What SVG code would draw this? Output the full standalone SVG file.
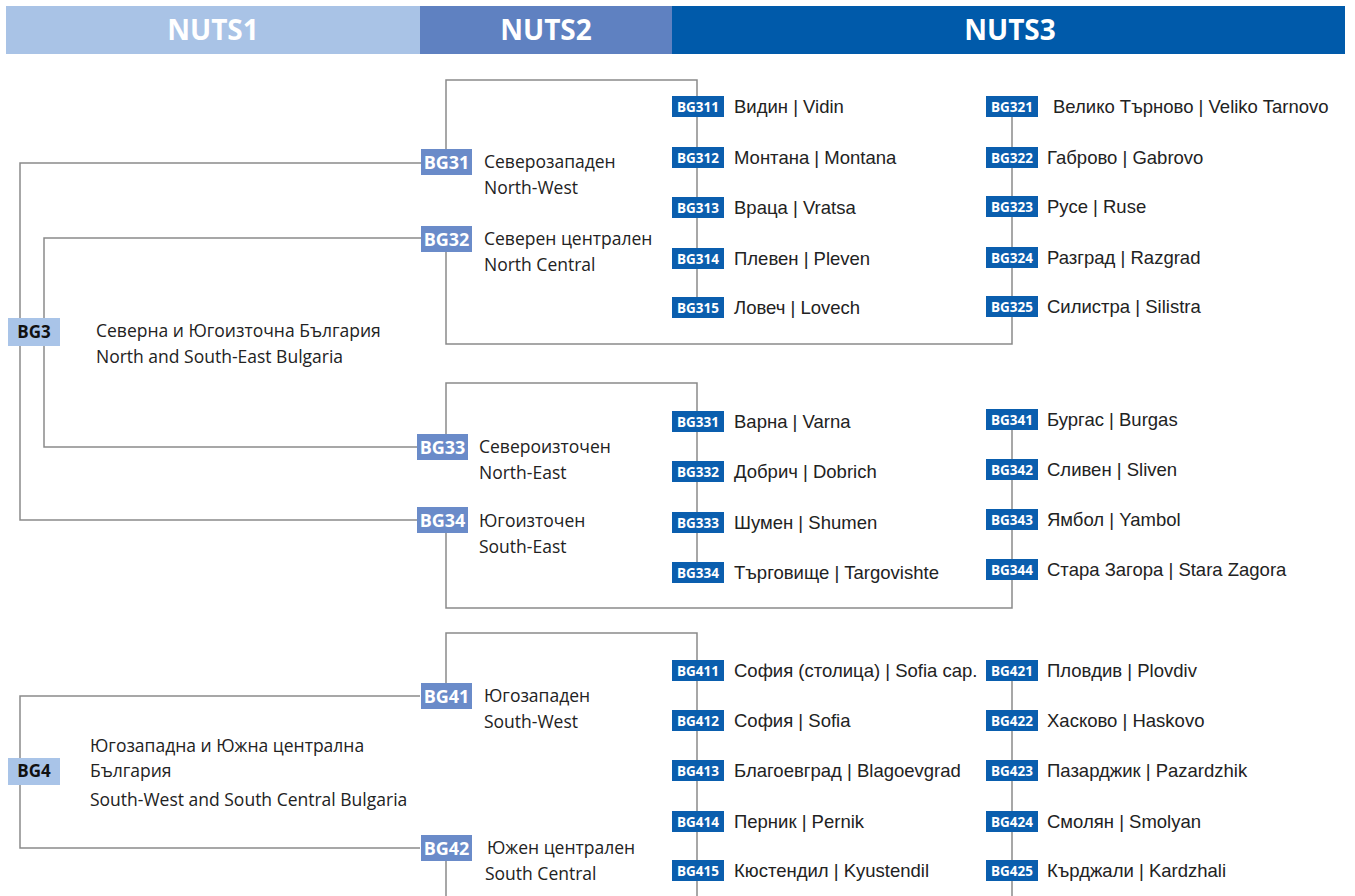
<svg xmlns="http://www.w3.org/2000/svg" width="1355" height="896" viewBox="0 0 1355 896">
<style>
.hd{font-family:"Open Sans","Noto Sans",sans-serif;font-weight:bold;font-size:28px;fill:#fff;text-anchor:middle}
.ln{fill:none;stroke:#8a8a8a;stroke-width:1.5}
.b1{fill:#a9c4e8}
.b2{fill:#6a8bc9}
.b3{fill:#0a5eae}
.t1{font-family:"Open Sans","Noto Sans",sans-serif;font-weight:bold;font-size:17px;fill:#111;text-anchor:middle}
.t2{font-family:"Open Sans","Noto Sans",sans-serif;font-weight:bold;font-size:18px;fill:#fff;text-anchor:middle}
.t3{font-family:"Open Sans","Noto Sans",sans-serif;font-weight:bold;font-size:13.5px;fill:#fff;text-anchor:middle}
.lb{font-family:"Open Sans","Noto Sans",sans-serif;font-size:17.5px;fill:#222}
.l3{font-family:"Liberation Sans",Arial,sans-serif;font-size:18.5px;fill:#222}
</style>
<rect width="1355" height="896" fill="#fff"/>
<g id="header">
<rect x="6" y="6" width="414" height="48" fill="#a9c3e6"/>
<rect x="420" y="6" width="252" height="48" fill="#5f81c1"/>
<rect x="672" y="6" width="673" height="48" fill="#005aaa"/>
<text class="hd" x="213" y="40">NUTS1</text>
<text class="hd" x="546" y="40">NUTS2</text>
<text class="hd" x="1010" y="40">NUTS3</text>
</g>
<g id="connectors">
<polyline class="ln" points="422,163 20,163 20,520 420,520"/>
<polyline class="ln" points="422,238 44,238 44,447 420,447"/>
<polyline class="ln" points="446,150 446,80 697,80 697,308"/>
<polyline class="ln" points="446,250 446,344 1012,344 1012,106"/>
<polyline class="ln" points="446,434 446,383 697,383 697,572"/>
<polyline class="ln" points="446,530 446,608 1012,608 1012,420"/>
<polyline class="ln" points="420,696 20,696 20,848 420,848"/>
<polyline class="ln" points="446,684 446,633 697,633 697,896"/>
<polyline class="ln" points="446,858 446,896"/>
<polyline class="ln" points="1012,670 1012,896"/>
</g>
<g id="BG3"><rect class="b1" x="8" y="318" width="52" height="28"/><text class="t1" x="34" y="338">BG3</text>
<text class="lb" x="96" y="337">Северна и Югоизточна България</text><text class="lb" x="96" y="363">North and South-East Bulgaria</text></g>
<g id="BG4"><rect class="b1" x="8" y="758" width="52" height="27"/><text class="t1" x="34" y="777">BG4</text>
<text class="lb" x="90" y="752">Югозападна и Южна централна</text><text class="lb" x="90" y="777">България</text><text class="lb" x="90" y="806">South-West and South Central Bulgaria</text></g>

<g id="BG31"><rect class="b2" x="421" y="149" width="51" height="26"/><text class="t2" x="446.5" y="168.5">BG31</text>
<text class="lb" x="484" y="168">Северозападен</text><text class="lb" x="484" y="194">North-West</text></g>
<g id="BG32"><rect class="b2" x="421" y="226" width="51" height="26"/><text class="t2" x="446.5" y="245.5">BG32</text>
<text class="lb" x="484" y="245">Северен централен</text><text class="lb" x="484" y="271">North Central</text></g>
<g id="BG33"><rect class="b2" x="417" y="434" width="51" height="26"/><text class="t2" x="442.5" y="453.5">BG33</text>
<text class="lb" x="479" y="453">Североизточен</text><text class="lb" x="479" y="479">North-East</text></g>
<g id="BG34"><rect class="b2" x="417" y="507" width="51" height="26"/><text class="t2" x="442.5" y="526.5">BG34</text>
<text class="lb" x="479" y="527">Югоизточен</text><text class="lb" x="479" y="553">South-East</text></g>
<g id="BG41"><rect class="b2" x="421" y="683" width="51" height="26"/><text class="t2" x="446.5" y="702.5">BG41</text>
<text class="lb" x="484" y="702">Югозападен</text><text class="lb" x="484" y="728">South-West</text></g>
<g id="BG42"><rect class="b2" x="421" y="835" width="51" height="26"/><text class="t2" x="446.5" y="854.5">BG42</text>
<text class="lb" x="487" y="854">Южен централен</text><text class="lb" x="485" y="880">South Central</text></g>

<g id="BG311"><rect class="b3" x="672" y="96" width="52" height="21"/><text class="t3" x="698" y="111.5">BG311</text><text class="l3" x="734" y="113">Видин | Vidin</text></g>
<g id="BG312"><rect class="b3" x="672" y="147" width="52" height="21"/><text class="t3" x="698" y="162.5">BG312</text><text class="l3" x="734" y="164">Монтана | Montana</text></g>
<g id="BG313"><rect class="b3" x="672" y="197" width="52" height="21"/><text class="t3" x="698" y="212.5">BG313</text><text class="l3" x="734" y="214">Враца | Vratsa</text></g>
<g id="BG314"><rect class="b3" x="672" y="248" width="52" height="21"/><text class="t3" x="698" y="263.5">BG314</text><text class="l3" x="734" y="265">Плевен | Pleven</text></g>
<g id="BG315"><rect class="b3" x="672" y="297" width="52" height="21"/><text class="t3" x="698" y="312.5">BG315</text><text class="l3" x="734" y="314">Ловеч | Lovech</text></g>

<g id="BG321"><rect class="b3" x="986" y="96" width="52" height="21"/><text class="t3" x="1012" y="111.5">BG321</text><text class="l3" x="1053" y="113">Велико Търново | Veliko Tarnovo</text></g>
<g id="BG322"><rect class="b3" x="986" y="147" width="52" height="21"/><text class="t3" x="1012" y="162.5">BG322</text><text class="l3" x="1047" y="164">Габрово | Gabrovo</text></g>
<g id="BG323"><rect class="b3" x="986" y="196" width="52" height="21"/><text class="t3" x="1012" y="211.5">BG323</text><text class="l3" x="1047" y="213">Русе | Ruse</text></g>
<g id="BG324"><rect class="b3" x="986" y="247" width="52" height="21"/><text class="t3" x="1012" y="262.5">BG324</text><text class="l3" x="1047" y="264">Разград | Razgrad</text></g>
<g id="BG325"><rect class="b3" x="986" y="296" width="52" height="21"/><text class="t3" x="1012" y="311.5">BG325</text><text class="l3" x="1047" y="313">Силистра | Silistra</text></g>

<g id="BG331"><rect class="b3" x="672" y="411" width="52" height="21"/><text class="t3" x="698" y="426.5">BG331</text><text class="l3" x="734" y="428">Варна | Varna</text></g>
<g id="BG332"><rect class="b3" x="672" y="461" width="52" height="21"/><text class="t3" x="698" y="476.5">BG332</text><text class="l3" x="734" y="478">Добрич | Dobrich</text></g>
<g id="BG333"><rect class="b3" x="672" y="512" width="52" height="21"/><text class="t3" x="698" y="527.5">BG333</text><text class="l3" x="734" y="529">Шумен | Shumen</text></g>
<g id="BG334"><rect class="b3" x="672" y="562" width="52" height="21"/><text class="t3" x="698" y="577.5">BG334</text><text class="l3" x="734" y="579">Търговище | Targovishte</text></g>

<g id="BG341"><rect class="b3" x="986" y="409" width="52" height="21"/><text class="t3" x="1012" y="424.5">BG341</text><text class="l3" x="1047" y="426">Бургас | Burgas</text></g>
<g id="BG342"><rect class="b3" x="986" y="459" width="52" height="21"/><text class="t3" x="1012" y="474.5">BG342</text><text class="l3" x="1047" y="476">Сливен | Sliven</text></g>
<g id="BG343"><rect class="b3" x="986" y="509" width="52" height="21"/><text class="t3" x="1012" y="524.5">BG343</text><text class="l3" x="1047" y="526">Ямбол | Yambol</text></g>
<g id="BG344"><rect class="b3" x="986" y="559" width="52" height="21"/><text class="t3" x="1012" y="574.5">BG344</text><text class="l3" x="1047" y="576">Стара Загора | Stara Zagora</text></g>

<g id="BG411"><rect class="b3" x="672" y="660" width="52" height="21"/><text class="t3" x="698" y="675.5">BG411</text><text class="l3" x="734" y="677">София (столица) | Sofia cap.</text></g>
<g id="BG412"><rect class="b3" x="672" y="710" width="52" height="21"/><text class="t3" x="698" y="725.5">BG412</text><text class="l3" x="734" y="727">София | Sofia</text></g>
<g id="BG413"><rect class="b3" x="672" y="760" width="52" height="21"/><text class="t3" x="698" y="775.5">BG413</text><text class="l3" x="734" y="777">Благоевград | Blagoevgrad</text></g>
<g id="BG414"><rect class="b3" x="672" y="811" width="52" height="21"/><text class="t3" x="698" y="826.5">BG414</text><text class="l3" x="734" y="828">Перник | Pernik</text></g>
<g id="BG415"><rect class="b3" x="672" y="860" width="52" height="21"/><text class="t3" x="698" y="875.5">BG415</text><text class="l3" x="734" y="877">Кюстендил | Kyustendil</text></g>

<g id="BG421"><rect class="b3" x="986" y="660" width="52" height="21"/><text class="t3" x="1012" y="675.5">BG421</text><text class="l3" x="1047" y="677">Пловдив | Plovdiv</text></g>
<g id="BG422"><rect class="b3" x="986" y="710" width="52" height="21"/><text class="t3" x="1012" y="725.5">BG422</text><text class="l3" x="1047" y="727">Хасково | Haskovo</text></g>
<g id="BG423"><rect class="b3" x="986" y="760" width="52" height="21"/><text class="t3" x="1012" y="775.5">BG423</text><text class="l3" x="1047" y="777">Пазарджик | Pazardzhik</text></g>
<g id="BG424"><rect class="b3" x="986" y="811" width="52" height="21"/><text class="t3" x="1012" y="826.5">BG424</text><text class="l3" x="1047" y="828">Смолян | Smolyan</text></g>
<g id="BG425"><rect class="b3" x="986" y="860" width="52" height="21"/><text class="t3" x="1012" y="875.5">BG425</text><text class="l3" x="1047" y="877">Кърджали | Kardzhali</text></g>
</svg>
